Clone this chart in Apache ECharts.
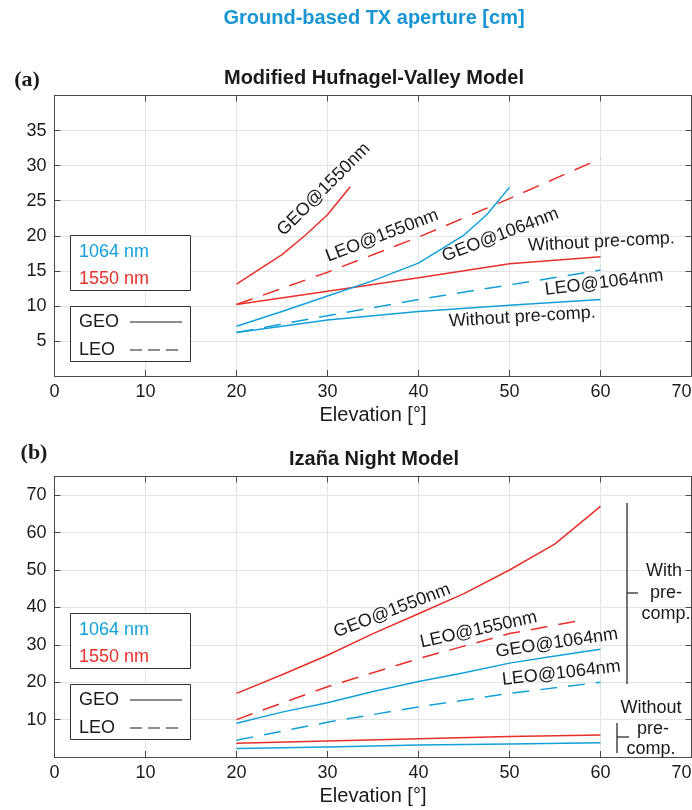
<!DOCTYPE html>
<html>
<head>
<meta charset="utf-8">
<script src="https://cdn.jsdelivr.net/npm/echarts@6/dist/echarts.min.js"></script>
<style>
  html, body { margin: 0; padding: 0; background: #fff; }
  #chart { width: 692px; height: 810px; }
</style>
</head>
<body>
<div id="chart"></div>
<script>
// values
const xTicks = [0, 10, 20, 30, 40, 50, 60, 70]

// (a) Modified Hufnagel-Valley
const aGeo1550X = [20, 22.5, 25, 27.5, 30, 32.5]
const aGeo1550Y = [13.1, 15.2, 17.3, 20, 23, 27]
const aLeo1550X = [20, 30, 40, 50, 60]
const aLeo1550Y = [10.2, 14.8, 19.8, 25.3, 31]
const aGeo1064X = [20, 25, 30, 35, 40, 45, 47.5, 50]
const aGeo1064Y = [7.1, 9.2, 11.4, 13.6, 16.1, 20.1, 23, 26.9]
const aLeo1064X = [20, 30, 40, 50, 60]
const aLeo1064Y = [6.2, 8.6, 10.9, 13, 15.1]
const aWo1550X = [20, 30, 40, 50, 60]
const aWo1550Y = [10.2, 12.1, 14, 16, 17]
const aWo1064X = [20, 30, 40, 50, 60]
const aWo1064Y = [6.2, 8, 9.2, 10.1, 10.9]

// (b) Izana night
const bGeo1550X = [20, 25, 30, 35, 40, 45, 50, 55, 60]
const bGeo1550Y = [17, 22, 27.2, 33, 38.3, 43.7, 50, 57, 67]
const bLeo1550X = [20, 30, 40, 50, 58]
const bLeo1550Y = [10, 18.8, 26.3, 33, 36.6]
const bGeo1064X = [20, 25, 30, 35, 40, 45, 50, 55, 60]
const bGeo1064Y = [9, 12, 14.5, 17.5, 20.2, 22.5, 25.1, 27, 28.8]
const bLeo1064X = [20, 30, 40, 50, 60]
const bLeo1064Y = [4.5, 9.3, 13.4, 17, 20]
const bWo1550X = [20, 30, 40, 50, 60]
const bWo1550Y = [3.7, 4.3, 4.9, 5.5, 5.9]
const bWo1064X = [20, 30, 40, 50, 60]
const bWo1064Y = [2.3, 2.7, 3.2, 3.5, 3.8]

// in-plot curve labels: [x, y, text, rotation]
const aNotes = [
  [29.6, 26.6, 'GEO@1550nm', 45],
  [36.0, 20.0, 'LEO@1550nm', 21],
  [49.0, 20.1, 'GEO@1064nm', 21],
  [60.1, 19.1, 'Without pre-comp.', 3],
  [60.4, 13.3, 'LEO@1064nm', 7],
  [51.4, 8.4, 'Without pre-comp.', 3.5]
]
const bNotes = [
  [37.1, 39.1, 'GEO@1550nm', 21],
  [46.6, 34.0, 'LEO@1550nm', 12.5],
  [55.2, 30.5, 'GEO@1064nm', 8.5],
  [55.7, 22.4, 'LEO@1064nm', 6.5]
]

const BLUE = '#12a0d8'
const RED = '#e6302a'
const TXT = '#1a1a1a'
const AX = '#4a4a4a'
const FONT = '"Liberation Sans", Arial, sans-serif'
const DASH = [17, 11]

function pairs(xs, ys) {
  return xs.map((x, i) => [x, ys[i]])
}

function line(gi, xs, ys, color, dashed) {
  return {
    type: 'line',
    xAxisIndex: gi * 2,
    yAxisIndex: gi * 2,
    data: pairs(xs, ys),
    showSymbol: false,
    silent: true,
    animation: false,
    lineStyle: { color: color, width: 1.5, type: dashed ? DASH : 'solid' },
    z: 3
  }
}

function xAxes(gi) {
  const base = {
    gridIndex: gi, type: 'value', min: 0, max: 70, interval: 10,
    axisLine: { show: true, onZero: false, lineStyle: { color: AX, width: 1 } },
    axisTick: { show: true, inside: true, length: 6, lineStyle: { color: AX } }
  }
  return [
    Object.assign({}, base, {
      position: 'bottom',
      axisLabel: { fontSize: 18, color: TXT, fontFamily: FONT, margin: 7, alignMaxLabel: 'right' },
      splitLine: { show: true, lineStyle: { color: '#e4e4e4', width: 1 } },
      name: 'Elevation [°]',
      nameLocation: 'middle',
      nameGap: 29,
      nameTextStyle: { fontSize: 20, color: TXT, fontFamily: FONT }
    }),
    Object.assign({}, base, {
      position: 'top',
      axisLabel: { show: false },
      splitLine: { show: false }
    })
  ]
}

function yAxes(gi, max, step) {
  const base = {
    gridIndex: gi, type: 'value', min: 0, max: max, interval: step,
    axisLine: { show: true, onZero: false, lineStyle: { color: AX, width: 1 } },
    axisTick: { show: true, inside: true, length: 6, lineStyle: { color: AX } }
  }
  return [
    Object.assign({}, base, {
      position: 'left',
      axisLabel: {
        fontSize: 18, color: TXT, fontFamily: FONT, margin: 8,
        formatter: v => (v === 0 || v === max || v % step !== 0) ? '' : String(v)
      },
      splitLine: { show: true, lineStyle: { color: '#e4e4e4', width: 1 } }
    }),
    Object.assign({}, base, {
      position: 'right',
      axisLabel: { show: false },
      splitLine: { show: false }
    })
  ]
}

function txt(text, x, y, opts) {
  opts = opts || {}
  return {
    type: 'text',
    z: 20,
    silent: true,
    x: x,
    y: y,
    rotation: (opts.rot || 0) * Math.PI / 180,
    style: {
      text: text, x: 0, y: 0,
      fill: opts.fill || TXT,
      font: opts.font || ('18px ' + FONT),
      align: opts.align || 'center',
      textAlign: opts.align || 'center',
      verticalAlign: 'middle',
      textVerticalAlign: 'middle'
    }
  }
}

function seg(x1, y1, x2, y2, dash) {
  return {
    type: 'line',
    z: 20,
    silent: true,
    shape: { x1: x1, y1: y1, x2: x2, y2: y2 },
    style: { stroke: TXT, lineWidth: 1.2, lineDash: dash || null }
  }
}

function box(x, y, w, h) {
  return {
    type: 'rect',
    z: 15,
    silent: true,
    shape: { x: x, y: y, width: w, height: h },
    style: { fill: '#fff', stroke: '#333', lineWidth: 1 }
  }
}

// two-box legend drawn by hand (colour box + line-style box)
function legend(top) {
  return [
    box(70.5, top + 0.5, 120, 55),
    txt('1064 nm', 79, top + 17, { fill: BLUE, align: 'left' }),
    txt('1550 nm', 79, top + 44, { fill: RED, align: 'left' }),
    box(70.5, top + 71.5, 120, 55),
    txt('GEO', 79, top + 87, { align: 'left' }),
    seg(130, top + 87, 182, top + 87),
    txt('LEO', 79, top + 115, { align: 'left' }),
    seg(130, top + 115, 182, top + 115, [12, 6])
  ]
}

const graphic = [
  txt('Ground-based TX aperture [cm]', 374, 18, { fill: '#1896d3', font: 'bold 20px ' + FONT }),
  txt('(a)', 27, 80, { font: 'bold 22px "Liberation Serif", "Times New Roman", serif' }),
  txt('Modified Hufnagel-Valley Model', 374, 78, { font: 'bold 20px ' + FONT }),
  txt('(b)', 34, 453, { font: 'bold 22px "Liberation Serif", "Times New Roman", serif' }),
  txt('Izaña Night Model', 374, 459, { font: 'bold 20px ' + FONT })
]
  .concat(legend(235))
  .concat(legend(613))
  .concat([
    // with / without pre-compensation brackets on panel (b)
    seg(627, 503, 627, 684),
    seg(627, 593, 638, 593),
    txt('With', 664, 571),
    txt('pre-', 666, 593),
    txt('comp.', 666, 614),
    seg(617, 723, 617, 753),
    seg(617, 737, 629, 737),
    txt('Without', 651, 708),
    txt('pre-', 653, 729),
    txt('comp.', 651, 749)
  ])

const chart = echarts.init(document.getElementById('chart'), null, { renderer: 'canvas' })

chart.setOption({
  animation: false,
  backgroundColor: '#fff',
  grid: [
    { left: 54.5, top: 95.5, width: 637, height: 280.5, outerBoundsMode: 'none' },
    { left: 54.5, top: 476.5, width: 637, height: 280.5, outerBoundsMode: 'none' }
  ],
  xAxis: xAxes(0).concat(xAxes(1)),
  yAxis: yAxes(0, 40, 5).concat(yAxes(1, 75, 10)),
  series: [
    line(0, aGeo1550X, aGeo1550Y, RED, false),
    line(0, aLeo1550X, aLeo1550Y, RED, true),
    line(0, aWo1550X, aWo1550Y, RED, false),
    line(0, aGeo1064X, aGeo1064Y, BLUE, false),
    line(0, aLeo1064X, aLeo1064Y, BLUE, true),
    line(0, aWo1064X, aWo1064Y, BLUE, false),
    line(1, bGeo1550X, bGeo1550Y, RED, false),
    line(1, bLeo1550X, bLeo1550Y, RED, true),
    line(1, bWo1550X, bWo1550Y, RED, false),
    line(1, bGeo1064X, bGeo1064Y, BLUE, false),
    line(1, bLeo1064X, bLeo1064Y, BLUE, true),
    line(1, bWo1064X, bWo1064Y, BLUE, false)
  ],
  graphic: graphic
})

// curve labels placed through the axes' own scales
function noteGraphics(gi, list) {
  return list.map(n => {
    const p = chart.convertToPixel({ gridIndex: gi }, [n[0], n[1]])
    return txt(n[2], p[0], p[1], { rot: n[3] })
  })
}

chart.setOption({
  graphic: graphic.concat(noteGraphics(0, aNotes)).concat(noteGraphics(1, bNotes))
})
</script>
</body>
</html>
